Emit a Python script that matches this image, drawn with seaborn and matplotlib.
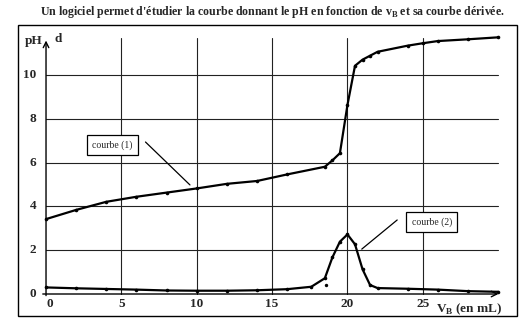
import matplotlib
matplotlib.use("Agg")
import matplotlib.pyplot as plt
import seaborn as sns
import pandas as pd
from matplotlib.patches import Rectangle

# ---- data ----
v_ph = [0, 2, 4, 6, 8, 10, 12, 14, 16, 18.5, 19, 19.5, 20, 20.5, 21, 21.5, 22, 24, 25, 26, 28, 30]
ph = [3.42, 3.84, 4.21, 4.44, 4.63, 4.82, 5.03, 5.16, 5.46, 5.81, 6.10, 6.43, 8.63, 10.42,
      10.70, 10.88, 11.06, 11.34, 11.45, 11.55, 11.63, 11.72]

v_d = [0, 2, 4, 6, 8, 10, 12, 14, 16, 17.6, 18.5, 19, 19.5, 20, 20.5, 21, 21.5, 22, 24, 26, 28, 30]
d = [0.30, 0.26, 0.23, 0.20, 0.16, 0.15, 0.15, 0.17, 0.22, 0.33, 0.72, 1.67, 2.39, 2.72, 2.27,
     1.13, 0.41, 0.27, 0.24, 0.20, 0.13, 0.10]
v_d_extra = [18.6]
d_extra = [0.41]

x_ticks = [0, 5, 10, 15, 20, 25]
y_ticks = [0, 2, 4, 6, 8, 10]
title = "Un logiciel permet d'étudier la courbe donnant le pH en fonction de v$_\\mathregular{B}$ et sa courbe dérivée."

sns.set_style("white")
plt.rcParams['font.family'] = ['Liberation Serif', 'DejaVu Serif']
plt.rcParams['mathtext.fontset'] = 'custom'
plt.rcParams['mathtext.rm'] = 'Liberation Serif:bold'

fig = plt.figure(figsize=(5.25, 3.25), dpi=100)
ax = fig.add_axes([0.0446, 0.028, 0.933, 0.8895])
ax.set_xlim(-1.5, 31.0)
ax.set_ylim(-1.0, 12.2)

# grid
for gx in x_ticks[1:]:
    ax.plot([gx, gx], [0, 11.7], color="#222222", lw=0.8, zorder=1)
for gy in y_ticks[1:]:
    ax.plot([0, 30], [gy, gy], color="#222222", lw=0.8, zorder=1)

# curves
df_ph = pd.DataFrame({"V": v_ph, "pH": ph})
df_d = pd.DataFrame({"V": v_d, "d": d})
sns.lineplot(data=df_ph, x="V", y="pH", ax=ax, color="black", lw=1.6, marker="o",
             markersize=2.6, markeredgewidth=0, zorder=3)
sns.lineplot(data=df_d, x="V", y="d", ax=ax, color="black", lw=1.6, marker="o",
             markersize=2.6, markeredgewidth=0, zorder=3)
sns.scatterplot(x=v_d_extra, y=d_extra, ax=ax, color="black", s=6, linewidth=0, zorder=3)

# axes with arrows
for s in ax.spines.values():
    s.set_visible(False)
ax.annotate("", xy=(30.2, 0), xytext=(-0.4, 0),
            arrowprops=dict(arrowstyle="->", lw=1.0, color="black", mutation_scale=10), zorder=2)
ax.annotate("", xy=(0, 11.7), xytext=(0, -0.2),
            arrowprops=dict(arrowstyle="->", lw=1.0, color="black", mutation_scale=10), zorder=2)

ax.set_xlabel("")
ax.set_ylabel("")
ax.set_xticks([])
ax.set_yticks([])
for t in x_ticks:
    ax.text(t + (0.25 if t == 0 else 0), -0.2, str(t), ha="center", va="top",
            fontsize=9.5, fontweight="bold")
for t in y_ticks:
    ax.text(-0.65, t, str(t), ha="right", va="center", fontsize=9.5, fontweight="bold")

ax.text(-0.2, 11.55, "pH", ha="right", va="center", fontsize=9.5, fontweight="bold")
ax.text(0.55, 11.65, "d", ha="left", va="center", fontsize=9.5, fontweight="bold")
ax.text(30.3, -0.35, "V$_\\mathregular{B}$ (en mL)", ha="right", va="top", fontsize=9.5, fontweight="bold")

# annotation boxes
ax.text(4.4, 6.8, "courbe (1)", ha="center", va="center", fontsize=7,
        bbox=dict(boxstyle="square,pad=0.55", fc="white", ec="black", lw=0.9), zorder=4)
ax.plot([6.6, 9.55], [6.94, 4.98], color="black", lw=0.9, zorder=4)
ax.text(25.6, 3.29, "courbe (2)", ha="center", va="center", fontsize=7,
        bbox=dict(boxstyle="square,pad=0.55", fc="white", ec="black", lw=0.9), zorder=4)
ax.plot([23.3, 20.95], [3.38, 2.05], color="black", lw=0.9, zorder=4)

# outer frame and title
fig.patches.append(Rectangle((18 / 525, 1 - 316 / 325), (517 - 18) / 525, (316 - 25) / 325,
                             transform=fig.transFigure, fill=False, ec="black", lw=1.0))
fig.text(0.518, 1 - 12 / 325, title, ha="center", va="center", fontsize=8.6, fontweight="bold")

fig.savefig("out.png", dpi=100)
